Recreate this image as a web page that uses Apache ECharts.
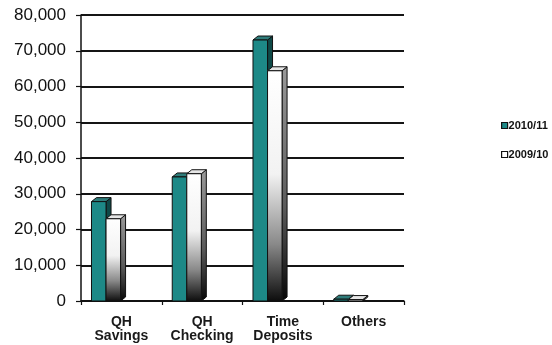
<!DOCTYPE html>
<html>
<head>
<meta charset="utf-8">
<script src="https://cdn.jsdelivr.net/npm/echarts@6/dist/echarts.min.js"></script>
<style>
  html, body { margin: 0; padding: 0; background: #fff; }
  #chart { width: 552px; height: 345px; }
</style>
</head>
<body>
<div id="chart"></div>
<script>
// Deposit balances by product
const categories = ['QH\nSavings', 'QH\nChecking', 'Time\nDeposits', 'Others'];
const seriesNames = ['2010/11', '2009/10'];
const values2010 = [27800, 34700, 73000, 500];
const values2009 = [23000, 35600, 64400, 400];
const yTicks = [0, 10000, 20000, 30000, 40000, 50000, 60000, 70000, 80000];

const FONT = '"Liberation Sans", Arial, sans-serif';

// face colours for each series: front, top, side
const styles = [
  {
    front: '#1d8987',
    top: '#2f7c7a',
    side: '#0f4948'
  },
  {
    front: new echarts.graphic.LinearGradient(0, 0, 0, 1, [
      { offset: 0, color: '#ffffff' },
      { offset: 0.45, color: '#f2f2f2' },
      { offset: 0.75, color: '#8a8a8a' },
      { offset: 1, color: '#0c0c0c' }
    ]),
    top: '#e6e6e6',
    side: new echarts.graphic.LinearGradient(0, 0, 0, 1, [
      { offset: 0, color: '#9a9a9a' },
      { offset: 0.6, color: '#5a5a5a' },
      { offset: 1, color: '#050505' }
    ])
  }
];

// bar placement inside a category band, as fractions of the band width
const barOffsets = [-0.37, -0.19];
const barWidthFrac = 0.18;

function makeRenderer(k) {
  return function (params, api) {
    const cat = api.value(0);
    const v = api.value(1);
    const base = api.coord([cat, 0]);
    const top = api.coord([cat, v]);
    const band = api.size([1, 0])[0];
    const w = band * barWidthFrac;
    const x0 = base[0] + band * barOffsets[k];
    const dx = 5, dy = -4;
    const y0 = top[1], y1 = base[1];
    const st = styles[k];
    const stroke = { stroke: '#111', lineWidth: 1 };
    return {
      type: 'group',
      children: [
        {
          type: 'polygon',
          shape: { points: [[x0 + w, y0], [x0 + w + dx, y0 + dy], [x0 + w + dx, y1 + dy], [x0 + w, y1]] },
          style: Object.assign({ fill: st.side }, stroke)
        },
        {
          type: 'polygon',
          shape: { points: [[x0, y0], [x0 + dx, y0 + dy], [x0 + w + dx, y0 + dy], [x0 + w, y0]] },
          style: Object.assign({ fill: st.top }, stroke)
        },
        {
          type: 'rect',
          shape: { x: x0, y: y0, width: w, height: y1 - y0 },
          style: Object.assign({ fill: st.front }, stroke)
        }
      ]
    };
  };
}

const chart = echarts.init(document.getElementById('chart'), null, { renderer: 'canvas' });

chart.setOption({
  animation: false,
  backgroundColor: '#ffffff',
  grid: { left: 81, right: 148, top: 15, bottom: 44 },
  legend: {
    orient: 'vertical',
    left: 496,
    top: 115,
    itemGap: 18,
    itemWidth: 6,
    itemHeight: 6,
    icon: 'rect',
    textStyle: { fontFamily: FONT, fontSize: 11, fontWeight: 'bold', color: '#111', padding: [0, 0, 0, -4] },
    data: [
      { name: seriesNames[0], itemStyle: { color: '#1d8987', borderColor: '#111', borderWidth: 1.2 } },
      { name: seriesNames[1], itemStyle: { color: '#ffffff', borderColor: '#111', borderWidth: 1.2 } }
    ]
  },
  xAxis: {
    type: 'category',
    data: categories,
    axisLine: { lineStyle: { color: '#111', width: 1.5 } },
    axisTick: { show: true, length: 4, lineStyle: { color: '#111', width: 1.2 } },
    axisLabel: {
      fontFamily: FONT, fontSize: 14, fontWeight: 'bold', color: '#1a1a1a',
      lineHeight: 14, margin: 14, interval: 0
    }
  },
  yAxis: {
    type: 'value',
    min: yTicks[0],
    max: yTicks[yTicks.length - 1],
    interval: yTicks[1] - yTicks[0],
    axisLine: { show: true, lineStyle: { color: '#111', width: 1.5 } },
    axisTick: { show: true, length: 5, lineStyle: { color: '#111', width: 1.2 } },
    splitLine: { show: true, lineStyle: { color: '#151515', width: 2 } },
    axisLabel: {
      fontFamily: FONT, fontSize: 17, color: '#111', margin: 15,
      formatter: function (v) { return v.toLocaleString('en-US'); }
    }
  },
  series: [
    {
      name: seriesNames[0],
      type: 'custom',
      renderItem: makeRenderer(0),
      itemStyle: { color: '#1d8987' },
      encode: { x: 0, y: 1 },
      data: values2010.map((v, i) => [i, v])
    },
    {
      name: seriesNames[1],
      type: 'custom',
      renderItem: makeRenderer(1),
      itemStyle: { color: '#ffffff' },
      encode: { x: 0, y: 1 },
      data: values2009.map((v, i) => [i, v])
    }
  ]
});
</script>
</body>
</html>
